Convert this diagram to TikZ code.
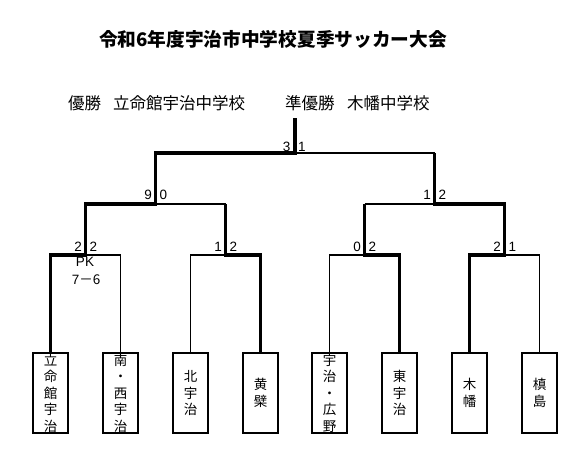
\documentclass[tikz,border=0pt]{standalone}
\usepackage{fontspec}
\setmainfont{Liberation Sans}
\newfontfamily\jp{Noto Sans CJK JP}
\begin{document}
\begin{tikzpicture}[x=1pt,y=-1pt,
  team/.style={draw=black,line width=2.2pt,minimum width=35pt,minimum height=80pt,inner sep=0pt,
    align=center,font=\jp\fontsize{13.5}{16.5}\selectfont},
  win/.style={line width=3.3pt,line join=miter},
  lose/.style={line width=1.6pt},
  score/.style={inner sep=0pt,font=\fontsize{13.5}{15}\selectfont}]
\useasboundingbox (0,0) rectangle (581,456);
% title
\node[inner sep=0pt,font=\jp\bfseries\fontsize{18.7}{20}\selectfont] (title) at (273,39) {令和6年度宇治市中学校夏季サッカー大会};
\node[inner sep=0pt,anchor=west,font=\jp\fontsize{16.5}{18}\selectfont] (w1) at (68,103.5) {優勝};
\node[inner sep=0pt,anchor=west,font=\jp\fontsize{16.5}{18}\selectfont] (w2) at (113,103.5) {立命館宇治中学校};
\node[inner sep=0pt,anchor=west,font=\jp\fontsize{16.5}{18}\selectfont] (w3) at (285,103.5) {準優勝};
\node[inner sep=0pt,anchor=west,font=\jp\fontsize{16.5}{18}\selectfont] (w4) at (347,103.5) {木幡中学校};
% teams
\node[team] (b1) at (50.5,393) {立\\命\\館\\宇\\治};
\node[team] (b2) at (120.5,393) {南\\・\\西\\宇\\治};
\node[team] (b3) at (190.5,393) {北\\宇\\治};
\node[team] (b4) at (260.5,393) {黄\\檗};
\node[team] (b5) at (329.5,393) {宇\\治\\・\\広\\野};
\node[team] (b6) at (399.5,393) {東\\宇\\治};
\node[team] (b7) at (469.5,393) {木\\幡};
\node[team] (b8) at (539.5,393) {槙\\島};
% junctions
\coordinate (j1) at (85.5,255);
\coordinate (j2) at (225.5,255);
\coordinate (j3) at (364.5,255);
\coordinate (j4) at (504.5,255);
\coordinate (k1) at (155.5,204);
\coordinate (k2) at (434.5,204);
\coordinate (f) at (295,153);
\coordinate (top) at (295,118);
% loser lines
\draw[lose] (b2.north) |- (j1);
\draw[lose] (b3.north) |- (j2);
\draw[lose] (b5.north) |- (j3);
\draw[lose] (b8.north) |- (j4);
\draw[lose] (j2 |- k1) -- (k1);
\draw[lose] (j3 |- k2) -- (k2);
\draw[lose] (k2 |- f) -- (f);
% winner lines
\draw[win] (b1.north) |- (j1) |- (k1) |- (f) -- (top);
\draw[win] (b4.north) |- (j2) -- (j2 |- k1);
\draw[win] (b6.north) |- (j3) -- (j3 |- k2);
\draw[win] (b7.north) |- (j4) |- (k2) -- (k2 |- f);
% scores
\node[score,anchor=base east] (s1a) at (82,251) {2};
\node[score,anchor=base west] (s1b) at (89.5,251) {2};
\node[score,anchor=base east] (s2a) at (222,251) {1};
\node[score,anchor=base west] (s2b) at (229.5,251) {2};
\node[score,anchor=base east] (s3a) at (361,251) {0};
\node[score,anchor=base west] (s3b) at (368.5,251) {2};
\node[score,anchor=base east] (s4a) at (501,251) {2};
\node[score,anchor=base west] (s4b) at (508.5,251) {1};
\node[score,anchor=base east] (s5a) at (152,199) {9};
\node[score,anchor=base west] (s5b) at (159.5,199) {0};
\node[score,anchor=base east] (s6a) at (431,199) {1};
\node[score,anchor=base west] (s6b) at (438.5,199) {2};
\node[score,anchor=base east] (s7a) at (290.5,151) {3};
\node[score,anchor=base west] (s7b) at (298,151) {1};
\node[score] (pk) at (85,261.5) {PK};
\node[score] (pks) at (86,280) {7\jp{－}6};
\end{tikzpicture}
\end{document}
